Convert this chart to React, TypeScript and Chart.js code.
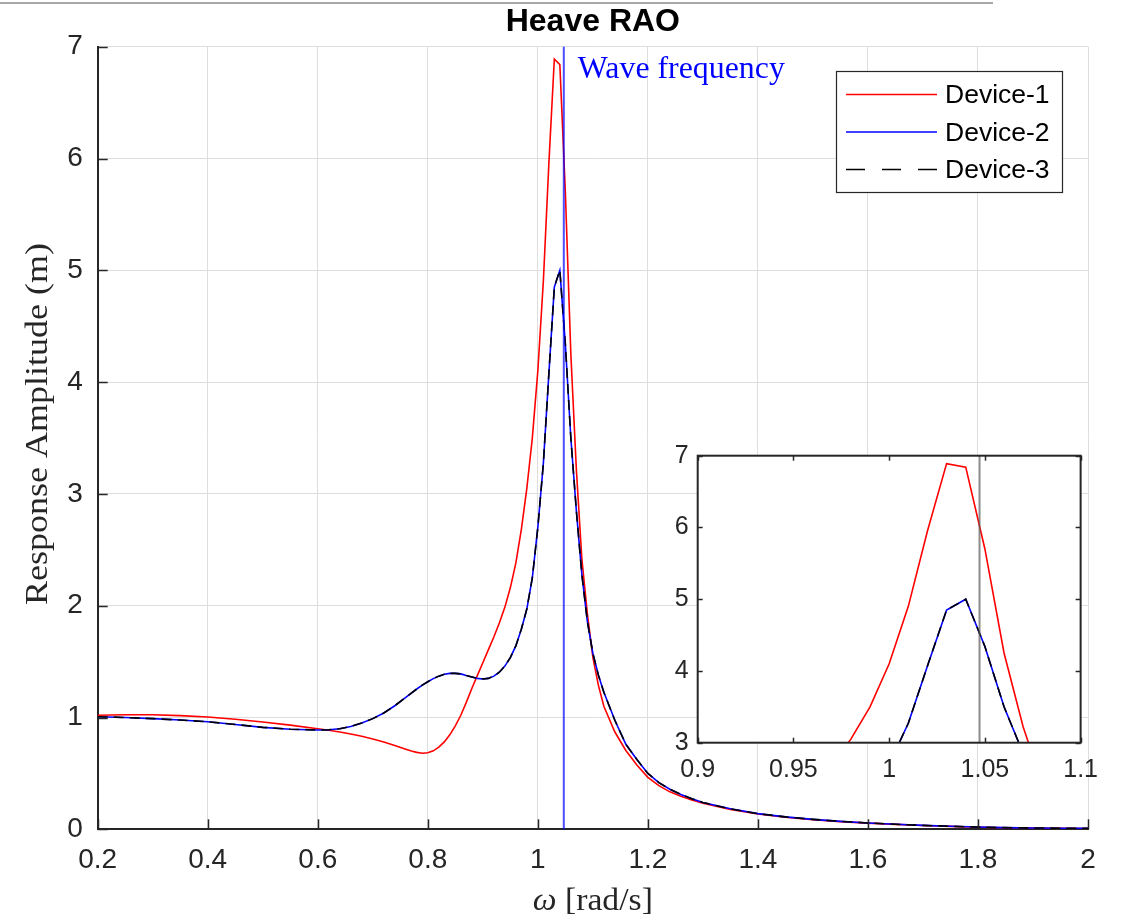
import React, { useEffect, useRef } from "react";
import { Chart, registerables } from "chart.js";
Chart.register(...registerables);

// ---------------- data ----------------
const omega = [
  0.2, 0.25, 0.3, 0.35, 0.4, 0.45, 0.5, 0.55, 0.6,
  0.62, 0.64, 0.66, 0.68, 0.7, 0.72, 0.74,
  0.76, 0.77, 0.78, 0.79, 0.8, 0.81, 0.82, 0.83, 0.84, 0.85, 0.86, 0.87, 0.88, 0.89, 0.9, 0.91, 0.92, 0.93, 0.94, 0.95, 0.96,
  0.97, 0.98, 0.99, 1.0, 1.01, 1.02, 1.03, 1.04, 1.05, 1.06, 1.07, 1.08, 1.09, 1.1, 1.11, 1.12,
  1.14, 1.16, 1.18, 1.2, 1.22, 1.24, 1.26, 1.28, 1.3,
  1.35, 1.4, 1.45, 1.5, 1.55, 1.6, 1.65, 1.7, 1.75, 1.8, 1.85, 1.9, 1.95, 2.0,
];
const device1 = [
  1.02, 1.024, 1.024, 1.017, 1.005, 0.985, 0.96, 0.932, 0.9,
  0.886, 0.871, 0.853, 0.833, 0.808, 0.781, 0.75,
  0.716, 0.7, 0.688, 0.68, 0.684, 0.702, 0.735, 0.782, 0.845, 0.925, 1.02, 1.135, 1.26, 1.375, 1.49, 1.605, 1.72, 1.845, 1.985, 2.16, 2.38,
  2.68, 3.05, 3.5, 4.1, 4.9, 5.95, 6.89, 6.84, 5.7, 4.25, 3.22, 2.42, 1.93, 1.54, 1.29, 1.1,
  0.87, 0.705, 0.575, 0.465, 0.39, 0.335, 0.295, 0.262, 0.233,
  0.178, 0.137, 0.108, 0.086, 0.069, 0.055, 0.044, 0.034, 0.026, 0.019, 0.014, 0.011, 0.009, 0.007,
];
const device2 = [
  1.007, 1.0, 0.99, 0.977, 0.962, 0.938, 0.912, 0.895, 0.888,
  0.89, 0.9, 0.92, 0.95, 0.99, 1.04, 1.105,
  1.18, 1.218, 1.255, 1.29, 1.32, 1.348, 1.37, 1.387, 1.395, 1.395, 1.39, 1.375, 1.362, 1.35, 1.345, 1.35, 1.37, 1.405, 1.46, 1.535, 1.64,
  1.79, 1.97, 2.25, 2.7, 3.27, 4.07, 4.85, 5.0, 4.34, 3.5, 2.85, 2.28, 1.86, 1.575, 1.38, 1.225,
  0.975, 0.76, 0.625, 0.5, 0.418, 0.358, 0.312, 0.273, 0.24,
  0.183, 0.14, 0.111, 0.089, 0.071, 0.057, 0.045, 0.035, 0.027, 0.02, 0.015, 0.012, 0.01, 0.008,
];
const device3 = [
  1.007, 1.0, 0.99, 0.977, 0.962, 0.938, 0.912, 0.895, 0.888,
  0.89, 0.9, 0.92, 0.95, 0.99, 1.04, 1.105,
  1.18, 1.218, 1.255, 1.29, 1.32, 1.348, 1.37, 1.387, 1.395, 1.395, 1.39, 1.375, 1.362, 1.35, 1.345, 1.35, 1.37, 1.405, 1.46, 1.535, 1.64,
  1.79, 1.97, 2.25, 2.7, 3.27, 4.07, 4.85, 5.0, 4.34, 3.5, 2.85, 2.28, 1.86, 1.575, 1.38, 1.225,
  0.975, 0.76, 0.625, 0.5, 0.418, 0.358, 0.312, 0.273, 0.24,
  0.183, 0.14, 0.111, 0.089, 0.071, 0.057, 0.045, 0.035, 0.027, 0.02, 0.015, 0.012, 0.01, 0.008,
];
const waveFrequency = 1.0472;
const seriesLabels = ["Device-1", "Device-2", "Device-3"];
const xTicksMain = [0.2, 0.4, 0.6, 0.8, 1.0, 1.2, 1.4, 1.6, 1.8, 2.0];
const yTicksMain = [0, 1, 2, 3, 4, 5, 6, 7];
const xTicksInset = [0.9, 0.95, 1.0, 1.05, 1.1];
const yTicksInset = [3, 4, 5, 6, 7];
const titleText = "Heave RAO";
const xLabelSymbol = "ω";
const xLabelUnit = "[rad/s]";
const yLabelText = "Response Amplitude (m)";
const waveLabel = "Wave frequency";

// ---------------- styles ----------------
const AX = "#262626";
const SANS = "'Liberation Sans', Arial, sans-serif";
const SERIF = "'Liberation Serif', 'Times New Roman', serif";
const RED = "#ff0000";
const BLUE = "#0000ff";
const BLACK = "#000000";
const DASH = [10, 6];

const pts = (ys: number[]) => omega.map((x, i) => ({ x, y: ys[i] }));

function makeDatasets(vline: string) {
  return [
    { label: "xline", data: [{ x: waveFrequency, y: -100 }, { x: waveFrequency, y: 100 }], borderColor: vline, borderWidth: 2, pointRadius: 0, order: 1 },
    { label: seriesLabels[2], data: pts(device3), borderColor: BLACK, borderWidth: 1.6, borderDash: DASH, pointRadius: 0, order: 2 },
    { label: seriesLabels[1], data: pts(device2), borderColor: BLUE, borderWidth: 1.6, pointRadius: 0, order: 3 },
    { label: seriesLabels[0], data: pts(device1), borderColor: RED, borderWidth: 1.6, pointRadius: 0, order: 4 },
  ];
}

const fmt = (v: any) => String(Number(Number(v).toFixed(4)));

// draw text stretched horizontally to a target width (LaTeX-like fonts are wider)
function fitText(ctx: CanvasRenderingContext2D, parts: { t: string; f: string }[], x: number, y: number, target: number, align: "left" | "center") {
  const widths = parts.map((p) => { ctx.font = p.f; return ctx.measureText(p.t).width; });
  const total = widths.reduce((s, w) => s + w, 0);
  const sx = target / total;
  ctx.save();
  ctx.translate(align === "center" ? x - target / 2 : x, y);
  ctx.scale(sx, 1);
  ctx.textAlign = "left";
  let cx = 0;
  parts.forEach((p, i) => { ctx.font = p.f; ctx.fillText(p.t, cx, 0); cx += widths[i]; });
  ctx.restore();
}

const mainDecor = {
  id: "mainDecor",
  afterDraw(chart: any) {
    const { ctx, chartArea: a, scales } = chart;
    const x = scales.x, y = scales.y;
    ctx.save();
    // inward ticks
    ctx.strokeStyle = AX;
    ctx.lineWidth = 1.5;
    xTicksMain.forEach((v) => {
      const px = Math.round(x.getPixelForValue(v)) + 0.5;
      ctx.beginPath(); ctx.moveTo(px, a.bottom); ctx.lineTo(px, a.bottom - 10); ctx.stroke();
    });
    yTicksMain.forEach((v) => {
      const py = Math.round(y.getPixelForValue(v)) + 0.5;
      ctx.beginPath(); ctx.moveTo(a.left, py); ctx.lineTo(a.left + 10, py); ctx.stroke();
    });
    // title
    ctx.fillStyle = "#000";
    ctx.font = `bold 32px ${SANS}`;
    ctx.textAlign = "center";
    ctx.textBaseline = "alphabetic";
    ctx.fillText(titleText, (a.left + a.right) / 2, 31);
    // x label
    ctx.fillStyle = AX;
    fitText(ctx, [
      { t: xLabelSymbol + " ", f: `italic 31px ${SERIF}` },
      { t: xLabelUnit, f: `31px ${SERIF}` },
    ], (a.left + a.right) / 2, 910, 120, "center");
    // y label
    ctx.save();
    ctx.translate(47, 424);
    ctx.rotate(-Math.PI / 2);
    fitText(ctx, [{ t: yLabelText, f: `31px ${SERIF}` }], 0, 0, 362, "center");
    ctx.restore();
    // wave frequency label
    ctx.fillStyle = BLUE;
    fitText(ctx, [{ t: waveLabel, f: `31px ${SERIF}` }], x.getPixelForValue(waveFrequency) + 14, 78, 207, "left");
    // legend
    const lx = 836.5, ly = 71.5, lw = 226, lh = 121;
    ctx.fillStyle = "#fff";
    ctx.fillRect(lx, ly, lw, lh);
    ctx.strokeStyle = AX;
    ctx.lineWidth = 1.2;
    ctx.strokeRect(lx, ly, lw, lh);
    const rows = [
      { c: RED, dash: [] as number[] },
      { c: BLUE, dash: [] as number[] },
      { c: BLACK, dash: [19, 17] },
    ];
    ctx.font = `26.5px ${SANS}`;
    ctx.textBaseline = "middle";
    ctx.textAlign = "left";
    rows.forEach((r, i) => {
      const yy = 94.5 + i * 37.5;
      ctx.strokeStyle = r.c;
      ctx.lineWidth = 1.6;
      ctx.setLineDash(r.dash);
      ctx.beginPath(); ctx.moveTo(846, yy); ctx.lineTo(937, yy); ctx.stroke();
      ctx.setLineDash([]);
      ctx.fillStyle = "#000";
      ctx.fillText(seriesLabels[i], 945, yy + 1.5);
    });
    ctx.restore();
  },
};

const insetDecor = {
  id: "insetDecor",
  beforeDraw(chart: any) {
    const { ctx, chartArea: a } = chart;
    ctx.save();
    ctx.fillStyle = "#fff";
    ctx.fillRect(a.left, a.top, a.right - a.left, a.bottom - a.top);
    ctx.restore();
  },
  afterDraw(chart: any) {
    const { ctx, chartArea: a, scales } = chart;
    const x = scales.x, y = scales.y;
    ctx.save();
    ctx.strokeStyle = AX;
    ctx.lineWidth = 1.5;
    xTicksInset.forEach((v) => {
      const px = Math.round(x.getPixelForValue(v)) + 0.5;
      ctx.beginPath(); ctx.moveTo(px, a.bottom); ctx.lineTo(px, a.bottom - 5); ctx.stroke();
      ctx.beginPath(); ctx.moveTo(px, a.top); ctx.lineTo(px, a.top + 5); ctx.stroke();
    });
    yTicksInset.forEach((v) => {
      const py = Math.round(y.getPixelForValue(v)) + 0.5;
      ctx.beginPath(); ctx.moveTo(a.left, py); ctx.lineTo(a.left + 5, py); ctx.stroke();
      ctx.beginPath(); ctx.moveTo(a.right, py); ctx.lineTo(a.right - 5, py); ctx.stroke();
    });
    ctx.lineWidth = 2;
    ctx.strokeRect(a.left, a.top, a.right - a.left, a.bottom - a.top);
    ctx.restore();
  },
};

function useChart(ref: React.RefObject<HTMLCanvasElement>, build: () => any) {
  useEffect(() => {
    if (!ref.current) return;
    const c = new Chart(ref.current, build());
    return () => c.destroy();
  }, []);
}

export default function App() {
  const mainRef = useRef<HTMLCanvasElement>(null);
  const insetRef = useRef<HTMLCanvasElement>(null);

  useChart(mainRef, () => ({
    type: "line",
    data: { datasets: makeDatasets("rgba(0,0,255,0.7)") },
    options: {
      animation: false,
      responsive: false,
      devicePixelRatio: 1,
      layout: { padding: { left: 0, right: 36, top: 46.7, bottom: 0 } },
      plugins: { legend: { display: false }, tooltip: { enabled: false }, title: { display: false } },
      elements: { line: { tension: 0 } },
      scales: {
        x: {
          type: "linear", min: 0.2, max: 2.0,
          afterBuildTicks: (s: any) => { s.ticks = xTicksMain.map((v) => ({ value: v })); },
          afterFit: (s: any) => { s.height = 918 - 829.3; },
          ticks: { callback: fmt, color: AX, font: { family: SANS, size: 28 }, padding: 14, maxRotation: 0, autoSkip: false },
          grid: { color: "#dedede", lineWidth: 1, drawTicks: false },
          border: { display: true, color: AX, width: 2 },
        },
        y: {
          type: "linear", min: 0, max: 7,
          afterBuildTicks: (s: any) => { s.ticks = yTicksMain.map((v) => ({ value: v })); },
          afterFit: (s: any) => { s.width = 97.7; },
          ticks: { callback: fmt, color: AX, font: { family: SANS, size: 28 }, padding: 15, autoSkip: false },
          grid: { color: "#dedede", lineWidth: 1, drawTicks: false },
          border: { display: true, color: AX, width: 2 },
        },
      },
    },
    plugins: [mainDecor],
  }));

  useChart(insetRef, () => ({
    type: "line",
    data: { datasets: makeDatasets("rgba(90,90,90,0.7)") },
    options: {
      animation: false,
      responsive: false,
      devicePixelRatio: 1,
      layout: { padding: { left: 0, right: 29, top: 35.7, bottom: 0 } },
      plugins: { legend: { display: false }, tooltip: { enabled: false }, title: { display: false } },
      elements: { line: { tension: 0 } },
      scales: {
        x: {
          type: "linear", min: 0.9, max: 1.1,
          afterBuildTicks: (s: any) => { s.ticks = xTicksInset.map((v) => ({ value: v })); },
          afterFit: (s: any) => { s.height = 380 - 322.7; },
          ticks: { callback: fmt, color: AX, font: { family: SANS, size: 25 }, padding: 12, maxRotation: 0, autoSkip: false },
          grid: { display: false, drawTicks: false },
          border: { display: false },
        },
        y: {
          type: "linear", min: 3, max: 7,
          afterBuildTicks: (s: any) => { s.ticks = yTicksInset.map((v) => ({ value: v })); },
          afterFit: (s: any) => { s.width = 77.7; },
          ticks: { callback: fmt, color: AX, font: { family: SANS, size: 25 }, padding: 9, autoSkip: false },
          grid: { display: false, drawTicks: false },
          border: { display: false },
        },
      },
    },
    plugins: [insetDecor],
  }));

  return (
    <div style={{ position: "fixed", left: 0, top: 0, width: 1124, height: 918, background: "#fff", overflow: "hidden" }}>
      <div style={{ position: "absolute", left: 0, top: 2, width: 993, height: 2, background: "#a8a8a8" }} />
      <canvas ref={mainRef} width={1124} height={918} style={{ position: "absolute", left: 0, top: 0 }} />
      <canvas ref={insetRef} width={490} height={380} style={{ position: "absolute", left: 620, top: 420 }} />
    </div>
  );
}
